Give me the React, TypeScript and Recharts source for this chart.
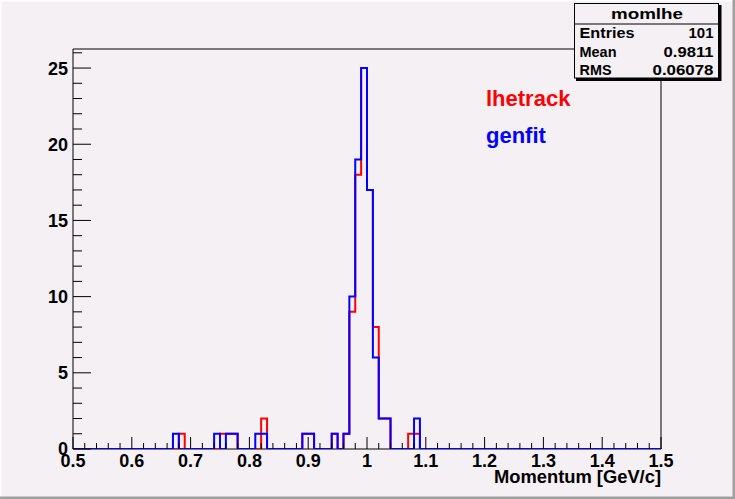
import { ComposedChart, Line, XAxis, YAxis, ReferenceArea } from 'recharts';

// histogram "momlhe": 100 bins, 0.5 .. 1.5 GeV/c
const lhetrackCounts = [
  0, 0, 0, 0, 0, 0, 0, 0, 0, 0,
  0, 0, 0, 0, 0, 0, 0, 0, 1, 0,
  0, 0, 0, 0, 0, 1, 1, 1, 0, 0,
  0, 0, 2, 0, 0, 0, 0, 0, 0, 1,
  1, 0, 0, 0, 1, 0, 1, 9, 18, 25,
  17, 8, 2, 2, 0, 0, 0, 1, 1, 0,
  0, 0, 0, 0, 0, 0, 0, 0, 0, 0,
  0, 0, 0, 0, 0, 0, 0, 0, 0, 0,
  0, 0, 0, 0, 0, 0, 0, 0, 0, 0,
  0, 0, 0, 0, 0, 0, 0, 0, 0, 0,
];

const genfitCounts = [
  0, 0, 0, 0, 0, 0, 0, 0, 0, 0,
  0, 0, 0, 0, 0, 0, 0, 1, 0, 0,
  0, 0, 0, 0, 1, 0, 1, 1, 0, 0,
  0, 1, 1, 0, 0, 0, 0, 0, 0, 1,
  1, 0, 0, 0, 1, 0, 1, 10, 19, 25,
  17, 6, 2, 2, 0, 0, 0, 0, 2, 0,
  0, 0, 0, 0, 0, 0, 0, 0, 0, 0,
  0, 0, 0, 0, 0, 0, 0, 0, 0, 0,
  0, 0, 0, 0, 0, 0, 0, 0, 0, 0,
  0, 0, 0, 0, 0, 0, 0, 0, 0, 0,
];

const xMin = 0.5;
const xMax = 1.5;
const yMax = 26.25;
const xLabels = ['0.5', '0.6', '0.7', '0.8', '0.9', '1', '1.1', '1.2', '1.3', '1.4', '1.5'];
const yLabels = ['0', '5', '10', '15', '20', '25'];

const statsTitle = 'momlhe';
const statsNames = ['Entries', 'Mean', 'RMS'];
const statsValues = ['101', '0.9811', '0.06078'];

const BG = '#f4f0f4';
const FONT = '"Liberation Sans", Arial, sans-serif';

// widths of the wide ROOT bitmap font, measured on the reference
const nameW = [55, 37, 32];
const valueW = [25, 50, 61];
const rowY = [37.5, 56.5, 75.3];

const nBins = lhetrackCounts.length;
const binW = (xMax - xMin) / nBins;
const data = lhetrackCounts.map((v, i) => ({
  x: +(xMin + i * binW).toFixed(4),
  lhetrack: v,
  genfit: genfitCounts[i],
}));
data.push({ x: xMax, lhetrack: 0, genfit: 0 });

const xTicks = Array.from({ length: 51 }, (_, i) => +(xMin + i * 0.02).toFixed(4));
const yTicks = Array.from({ length: 27 }, (_, i) => i);

const XTick = (props: any) => {
  const { x, y, index } = props;
  const major = index % 5 === 0;
  return (
    <g>
      <line x1={x} x2={x} y1={y} y2={y - (major ? 12 : 6)} stroke="#000" strokeWidth={1} />
      {major && (
        <text x={x} y={y + 18} textAnchor="middle" fontFamily={FONT} fontWeight="bold" fontSize={18} fill="#000">
          {xLabels[index / 5]}
        </text>
      )}
    </g>
  );
};

const YTick = (props: any) => {
  const { x, y, payload } = props;
  const v = payload.value;
  const major = v % 5 === 0;
  return (
    <g>
      <line x1={x} x2={x + (major ? 18 : 9)} y1={y} y2={y} stroke="#000" strokeWidth={1} />
      {major && (
        <text x={x - 5} y={y} dy="0.36em" textAnchor="end" fontFamily={FONT} fontWeight="bold" fontSize={18} fill="#000">
          {yLabels[v / 5]}
        </text>
      )}
    </g>
  );
};

export default function App() {
  return (
    <div style={{ position: 'relative', width: 735, height: 499, background: BG, overflow: 'hidden' }}>
      <style>{'body{margin:0}'}</style>
      <ComposedChart width={735} height={499} data={data} margin={{ top: 49, right: 74, left: 0, bottom: 0 }}>
        <XAxis
          dataKey="x"
          type="number"
          domain={[xMin, xMax]}
          allowDataOverflow
          ticks={xTicks}
          interval={0}
          tickSize={0}
          tickMargin={0}
          tickLine={false}
          axisLine={false}
          tick={<XTick />}
          height={50}
        />
        <YAxis
          type="number"
          domain={[0, yMax]}
          allowDataOverflow
          ticks={yTicks}
          interval={0}
          tickSize={0}
          tickMargin={0}
          tickLine={false}
          axisLine={false}
          tick={<YTick />}
          width={73}
        />
        <ReferenceArea x1={xMin} x2={xMax} y1={0} y2={yMax} fill="none" fillOpacity={0} stroke="#000" strokeWidth={1} />
        <Line
          dataKey="lhetrack"
          type="stepAfter"
          stroke="#ff0000"
          strokeWidth={2}
          dot={false}
          activeDot={false}
          isAnimationActive={false}
        />
        <Line
          dataKey="genfit"
          type="stepAfter"
          stroke="#0000ff"
          strokeWidth={2}
          dot={false}
          activeDot={false}
          isAnimationActive={false}
        />
      </ComposedChart>
      <svg width={735} height={499} style={{ position: 'absolute', left: 0, top: 0, pointerEvents: 'none' }}>
        <text x={661} y={483} textAnchor="end" textLength={167} lengthAdjust="spacingAndGlyphs"
          fontFamily={FONT} fontWeight="bold" fontSize={18} fill="#000">
          Momentum [GeV/c]
        </text>
        <text x={486} y={106} fontFamily={FONT} fontWeight="bold" fontSize={22} fill="#ff0000">
          lhetrack
        </text>
        <text x={486} y={143} fontFamily={FONT} fontWeight="bold" fontSize={22} fill="#0000ff">
          genfit
        </text>
        <rect x={576} y={5} width={145.5} height={76} fill="#000" />
        <rect x={574.5} y={3.5} width={144} height={74.5} fill={BG} stroke="#000" strokeWidth={1} />
        <line x1={574.5} x2={718.5} y1={24} y2={24} stroke="#000" strokeWidth={1} />
        <text x={611} y={19} textLength={72} lengthAdjust="spacingAndGlyphs"
          fontFamily={FONT} fontWeight="bold" fontSize={15} fill="#000">
          {statsTitle}
        </text>
        {statsNames.map((name, i) => (
          <g key={name}>
            <text x={579.5} y={rowY[i]} textLength={nameW[i]} lengthAdjust="spacingAndGlyphs"
              fontFamily={FONT} fontWeight="bold" fontSize={15} fill="#000">
              {name}
            </text>
            <text x={713.5 - valueW[i]} y={rowY[i]} textLength={valueW[i]} lengthAdjust="spacingAndGlyphs"
              fontFamily={FONT} fontWeight="bold" fontSize={15} fill="#000">
              {statsValues[i]}
            </text>
          </g>
        ))}
        <rect x={0} y={0} width={735} height={1.5} fill="#ffffff" />
        <rect x={0} y={0} width={1.5} height={499} fill="#ffffff" />
        <rect x={732.5} y={0} width={2.5} height={499} fill="#a0a0a0" />
        <rect x={0} y={496.5} width={735} height={2.5} fill="#a0a0a0" />
      </svg>
    </div>
  );
}
